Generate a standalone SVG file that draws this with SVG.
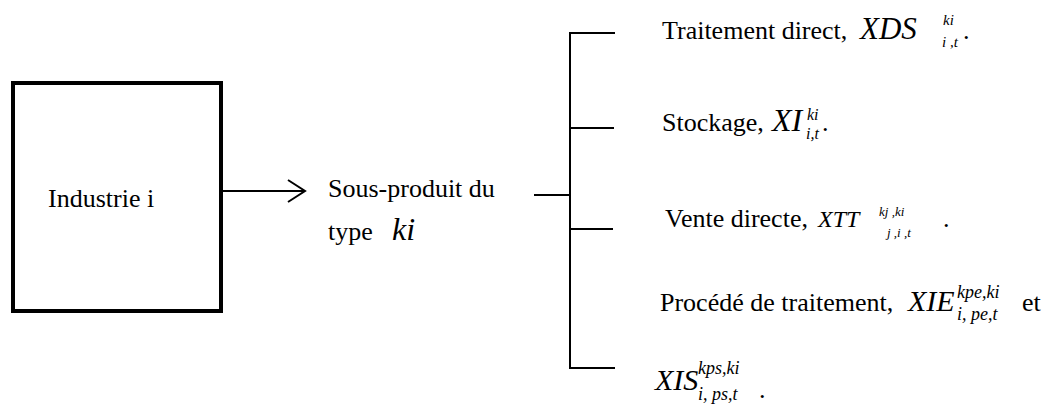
<svg xmlns="http://www.w3.org/2000/svg" width="1059" height="406" viewBox="0 0 1059 406">
<style>
.t{font-family:'Liberation Serif','Times New Roman',Times,serif;font-size:26px;fill:#000}
.m{font-family:'Liberation Serif','Times New Roman',Times,serif;font-style:italic;fill:#000}
.ln{stroke:#000;stroke-width:2;fill:none}
</style>
<rect width="1059" height="406" fill="#fff"/>
<g id="industrie">
<rect x="13" y="83" width="208" height="228" fill="#fff" stroke="#000" stroke-width="4"/>
<text class="t" x="48" y="207">Industrie i</text>
</g>
<g id="sousproduit">
<text class="t" x="328" y="197">Sous-produit du</text>
<text class="t" x="328" y="240">type</text>
<text class="m" x="392" y="240" style="font-size:32px">ki</text>
</g>
<g id="traitement">
<text class="t" x="662" y="39">Traitement direct,</text>
<text class="m" x="860" y="39" style="font-size:31px">XDS</text>
<text class="m" x="943" y="25" style="font-size:15px">ki</text>
<text class="m" x="942" y="47" style="font-size:15px">i ,t</text>
<text class="t" x="963" y="39">.</text>
</g>
<g id="stockage">
<text class="t" x="662" y="131">Stockage,</text>
<text class="m" x="772" y="131" style="font-size:32px">XI</text>
<text class="m" x="807" y="120" style="font-size:16px">ki</text>
<text class="m" x="806" y="139" style="font-size:16px">i,t</text>
<text class="t" x="822" y="131">.</text>
</g>
<g id="vente">
<text class="t" x="665" y="227">Vente directe,</text>
<text class="m" x="818" y="227" style="font-size:24px">XTT</text>
<text class="m" x="879" y="216" style="font-size:13px">kj ,ki</text>
<text class="m" x="887" y="237" style="font-size:13px">j ,i ,t</text>
<text class="t" x="943" y="227">.</text>
</g>
<g id="procede">
<text class="t" x="660" y="311">Procédé de traitement,</text>
<text class="m" x="908" y="311" style="font-size:30px">XIE</text>
<text class="m" x="957" y="298" style="font-size:18px">kpe,ki</text>
<text class="m" x="957" y="320" style="font-size:18px">i, pe,t</text>
<text class="t" x="1022" y="311">et</text>
</g>
<g id="xis">
<text class="m" x="655" y="390" style="font-size:30px">XIS</text>
<text class="m" x="698" y="374" style="font-size:18px">kps,ki</text>
<text class="m" x="698" y="400" style="font-size:18px">i, ps,t</text>
<text class="t" x="759" y="398">.</text>
</g>
<g id="connectors">
<line class="ln" x1="221" y1="191" x2="305" y2="191"/>
<polyline class="ln" points="288,180 305,191 288,202"/>
<line class="ln" x1="534" y1="195" x2="570" y2="195"/>
<line class="ln" x1="570" y1="32" x2="570" y2="369"/>
<line class="ln" x1="569" y1="33" x2="615" y2="33"/>
<line class="ln" x1="569" y1="128" x2="614" y2="128"/>
<line class="ln" x1="569" y1="229" x2="613" y2="229"/>
<line class="ln" x1="569" y1="368" x2="615" y2="368"/>
</g>
</svg>
